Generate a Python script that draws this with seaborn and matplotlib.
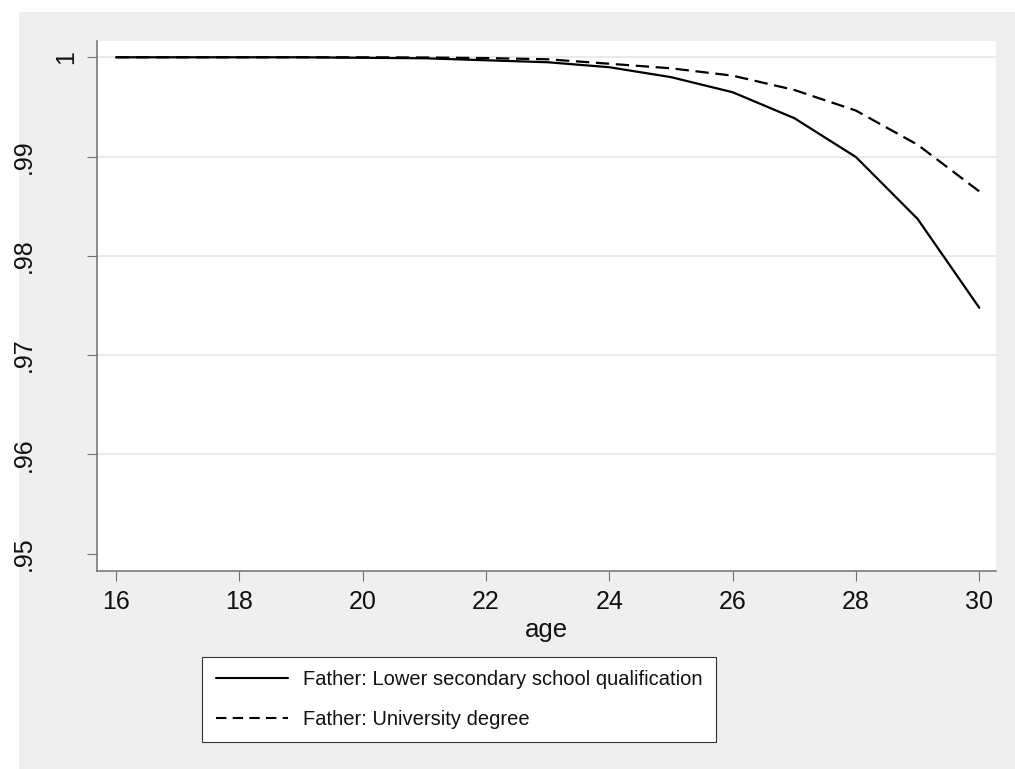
import matplotlib
matplotlib.use("Agg")
import matplotlib.pyplot as plt
import matplotlib.transforms as mtransforms
from matplotlib.patches import Rectangle
from matplotlib.lines import Line2D
from matplotlib.font_manager import FontProperties
import numpy as np
import pandas as pd
import seaborn as sns

# ---- data ----
ages = [16, 17, 18, 19, 20, 21, 22, 23, 24, 25, 26, 27, 28, 29, 30]
lower_secondary = [1.0, 1.0, 1.0, 1.0, 0.99995, 0.9999, 0.9997, 0.9995, 0.9990,
                   0.9980, 0.99648, 0.99387, 0.98995, 0.98372, 0.97477]
university = [1.0, 1.0, 1.0, 1.0, 1.0, 0.99998, 0.99992, 0.9998, 0.99935,
              0.99889, 0.99815, 0.99671, 0.99463, 0.99119, 0.98649]
series_names = ["Father: Lower secondary school qualification",
                "Father: University degree"]
xticks = [16, 18, 20, 22, 24, 26, 28, 30]
yticks = [0.95, 0.96, 0.97, 0.98, 0.99, 1.0]
ytick_labels = [".95", ".96", ".97", ".98", ".99", "1"]
x_title = "age"

sns.set_style("white")
plt.rcParams["font.family"] = ["Liberation Sans", "DejaVu Sans"]

W, H = 1015, 769
fig = plt.figure(figsize=(W / 100, H / 100), dpi=100)
fig.patch.set_facecolor("white")
fig.add_artist(Rectangle((19 / W, 0), 1 - 19 / W, 1 - 12 / H,
                         transform=fig.transFigure, facecolor="#EFEFEF",
                         edgecolor="none", zorder=-10))

ax = fig.add_axes([97 / W, 1 - 571 / H, (996 - 97) / W, (571 - 41) / H])
ax.set_facecolor("white")

df = pd.DataFrame({
    "age": ages * 2,
    "value": lower_secondary + university,
    "group": [series_names[0]] * len(ages) + [series_names[1]] * len(ages),
})
dash_styles = {series_names[0]: "", series_names[1]: (6, 3)}
sns.lineplot(data=df, x="age", y="value", style="group", dashes=dash_styles,
             color="black", linewidth=1.6, ax=ax, legend=False)

ax.set_xlim(15.692, 30.271)
ax.set_ylim(0.94826, 1.00164)
ax.set_xticks(xticks)
ax.set_xticklabels([str(t) for t in xticks], fontsize=18, color="#111111")
ax.set_yticks(yticks)
ax.set_yticklabels([])

ax.grid(axis="y", color="#EAEAEA", linewidth=1.5)
ax.grid(axis="x", visible=False)
ax.set_axisbelow(True)
gl = ax.yaxis.get_gridlines()
gl[0].set_visible(False)

for s in ["top", "right"]:
    ax.spines[s].set_visible(False)
for s in ["left", "bottom"]:
    ax.spines[s].set_color("#707070")
    ax.spines[s].set_linewidth(1.1)

ax.tick_params(axis="both", direction="out", length=7.2, width=0.8,
               color="#707070", left=True, bottom=True)
ax.tick_params(axis="x", pad=6.5)

# rotated y tick labels
tr = mtransforms.blended_transform_factory(fig.transFigure, ax.transData)
for v, lab in zip(yticks, ytick_labels):
    xr = 78 if lab == "1" else 36
    ax.text(xr / W, v, lab, transform=tr, rotation=90, ha="right", va="center",
            fontsize=18, color="#111111")

ax.set_xlabel(x_title, fontsize=18.5, color="#111111", labelpad=3)
ax.set_ylabel("")

handles = [Line2D([], [], color="black", linewidth=1.5),
           Line2D([], [], color="black", linewidth=1.5, dashes=(5, 3))]
leg = fig.legend(handles, series_names, loc="center",
                 bbox_to_anchor=(459 / W, 1 - 699.5 / H),
                 frameon=True, fancybox=False, edgecolor="#333333",
                 framealpha=1, facecolor="white",
                 prop=FontProperties(family=["Liberation Sans"], size=14.5),
                 handlelength=3.6, handletextpad=0.7, labelspacing=1.0,
                 borderpad=0.68, borderaxespad=0)
leg.get_frame().set_linewidth(0.8)
for t in leg.get_texts():
    t.set_color("#111111")

fig.savefig("out.png", dpi=100)
